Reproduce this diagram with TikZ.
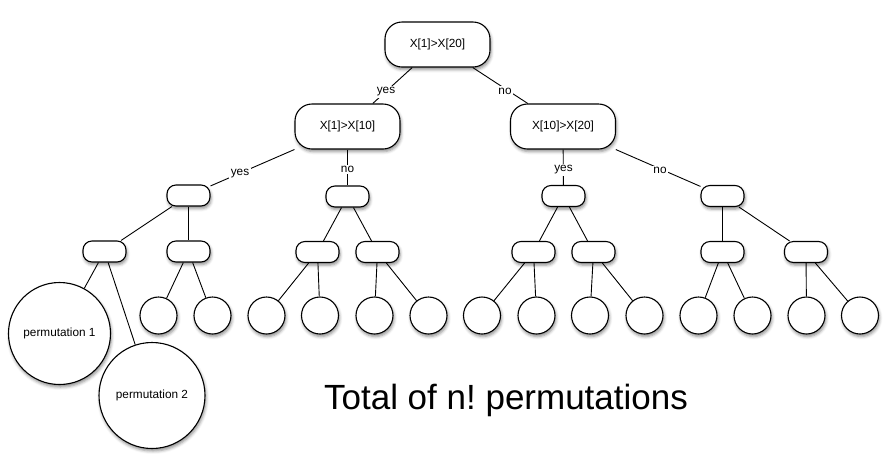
\documentclass[tikz,border=0pt]{standalone}
\usepackage{fontspec}
\setmainfont{Liberation Sans}
\usetikzlibrary{shadows.blur}
\begin{document}
\frenchspacing
\begin{tikzpicture}[x=1pt,y=-1pt,
  every node/.style={font=\fontsize{11.8}{14}\selectfont},
  shad/.style={blur shadow={shadow xshift=1pt, shadow yshift=-2.5pt, shadow blur radius=3pt, shadow opacity=45}},
  bigbox/.style={draw, line width=1.1pt, rounded corners=17pt, minimum width=105pt, minimum height=45pt, fill=white, shad},
  smallbox/.style={draw, line width=1.1pt, rounded corners=9pt, minimum width=43pt, minimum height=21pt, fill=white, shad},
  leaf/.style={draw, line width=1.1pt, circle, minimum size=37pt, inner sep=0pt, fill=white, shad},
  lbl/.style={fill=white, inner sep=1.5pt},
  edge/.style={line width=0.9pt}
]
\useasboundingbox (0,0) rectangle (887,459);

% decision nodes
\node[bigbox] (r) at (437.5,44.5) {X[1]>X[20]};
\node[bigbox] (a) at (347.5,126.5) {X[1]>X[10]};
\node[bigbox] (b) at (563,126.5) {X[10]>X[20]};

\node[smallbox] (aa) at (188.5,195.5) {};
\node[smallbox] (ab) at (347.5,196.5) {};
\node[smallbox] (ba) at (563.5,196) {};
\node[smallbox] (bb) at (722.5,196) {};

\node[smallbox] (aaa) at (104.5,251.5) {};
\node[smallbox] (aab) at (188.5,251.5) {};
\node[smallbox] (aba) at (317.5,252) {};
\node[smallbox] (abb) at (377.5,252) {};
\node[smallbox] (baa) at (533.5,252) {};
\node[smallbox] (bab) at (593.5,252) {};
\node[smallbox] (bba) at (722.5,252) {};
\node[smallbox] (bbb) at (806,252) {};

% leaves
\node[draw, line width=1.1pt, circle, minimum size=102pt, inner sep=0pt, fill=white, shad] (p1) at (59.5,333.5) {permutation 1};
\node[draw, line width=1.1pt, circle, minimum size=106pt, inner sep=0pt, fill=white, shad] (p2) at (152,395.5) {permutation 2};
\node[leaf] (l1) at (158.5,315.5) {};
\node[leaf] (l2) at (212.5,315.5) {};
\node[leaf] (l3) at (266.5,315.5) {};
\node[leaf] (l4) at (320,315.5) {};
\node[leaf] (l5) at (374.5,315.5) {};
\node[leaf] (l6) at (428.5,315.5) {};
\node[leaf] (l7) at (482,315.5) {};
\node[leaf] (l8) at (536.5,315.5) {};
\node[leaf] (l9) at (590,315.5) {};
\node[leaf] (l10) at (644.5,315.5) {};
\node[leaf] (l11) at (698.5,315.5) {};
\node[leaf] (l12) at (752.5,315.5) {};
\node[leaf] (l13) at (806.5,315.5) {};
\node[leaf] (l14) at (860,315.5) {};

% edges
\draw[edge] (r) -- (a);
\draw[edge] (r) -- (b);
\draw[edge] (a) -- (aa);
\draw[edge] (a) -- (ab);
\draw[edge] (b) -- (ba);
\draw[edge] (b) -- (bb);
\draw[edge] (aa) -- (aaa);
\draw[edge] (aa) -- (aab);
\draw[edge] (ab) -- (aba);
\draw[edge] (ab) -- (abb);
\draw[edge] (ba) -- (baa);
\draw[edge] (ba) -- (bab);
\draw[edge] (bb) -- (bba);
\draw[edge] (bb) -- (bbb);
\draw[edge] (aaa) -- (p1);
\draw[edge] (aaa) -- (p2);
\draw[edge] (aab) -- (l1);
\draw[edge] (aab) -- (l2);
\draw[edge] (aba) -- (l3);
\draw[edge] (aba) -- (l4);
\draw[edge] (abb) -- (l5);
\draw[edge] (abb) -- (l6);
\draw[edge] (baa) -- (l7);
\draw[edge] (baa) -- (l8);
\draw[edge] (bab) -- (l9);
\draw[edge] (bab) -- (l10);
\draw[edge] (bba) -- (l11);
\draw[edge] (bba) -- (l12);
\draw[edge] (bbb) -- (l13);
\draw[edge] (bbb) -- (l14);

% edge labels
\node[lbl] (y1) at (386,92) {yes};
\node[lbl] (n1) at (505,91) {no};
\node[lbl] (y2) at (240,174) {yes};
\node[lbl] (n2) at (347.5,169.5) {no};
\node[lbl] (y3) at (563.5,170) {yes};
\node[lbl] (n3) at (660,170.5) {no};

% caption
\node[font=\fontsize{35}{40}\selectfont] (cap) at (506,400.5) {Total of n!\ permutations};
\end{tikzpicture}
\end{document}
